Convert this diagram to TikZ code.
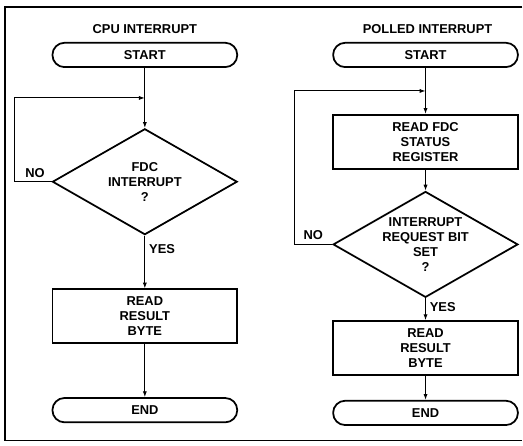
\documentclass[tikz,border=0pt]{standalone}
\usepackage{fontspec}
\setsansfont{Liberation Sans}
\usetikzlibrary{positioning, arrows.meta, shapes.geometric}

\begin{document}
\begin{tikzpicture}[
  font=\sffamily\bfseries\fontsize{11}{12.75}\selectfont,
  term/.style={draw, line width=1.5pt, rounded corners=0.36cm,
    minimum width=5.55cm, minimum height=0.73cm},
  box/.style={draw, line width=1.5pt, minimum width=5.55cm,
    minimum height=1.62cm, align=center},
  decision/.style={draw, diamond, line width=1.5pt, aspect=1.74, inner sep=0pt,
    minimum width=5.55cm, minimum height=3.18cm, align=center},
  arrow/.style={-{Latex[length=5pt,width=3.5pt]}, line width=0.8pt},
]
  \path[fill=white] (0,0) rectangle (15.69,-13.38);
  \draw[line width=1pt] (15.69,-0.21) -- (0.15,-0.21) -- (0.15,-13.23) -- (15.69,-13.23);

  \node (cpu) at (4.35,-0.87) {CPU INTERRUPT};
  \node[term] (start1) at (4.35,-1.65) {START};
  \node[decision, below=1.8cm of start1] (fdc) {FDC\\INTERRUPT\\?};
  \node[box, below=1.59cm of fdc] (read1) {READ\\RESULT\\BYTE};
  \node[term, below=1.59cm of read1] (end1) {END};
  \coordinate[below=0.9cm of start1] (join1);

  \node (poll) at (12.84,-0.87) {POLLED INTERRUPT};
  \node[term] (start2) at (12.78,-1.65) {START};
  \node[box, below=1.38cm of start2] (status) {READ FDC\\STATUS\\REGISTER};
  \node[decision, below=0.63cm of status] (irq) {INTERRUPT\\REQUEST BIT\\SET\\?};
  \node[box, below=0.66cm of irq] (read2) {READ\\RESULT\\BYTE};
  \node[term, below=0.72cm of read2] (end2) {END};
  \coordinate[below=0.69cm of start2] (join2);

  \draw[arrow] (start1) -- (fdc);
  \draw[arrow] (fdc.west) -- node[above, pos=0.45] (no1) {NO} ++(-1.11,0) |- (join1);
  \draw[arrow] (fdc) -- node[right, pos=0.25] (yes1) {YES} (read1);
  \draw[arrow] (read1) -- (end1);

  \draw[arrow] (start2) -- (status);
  \draw[arrow] (status) -- (irq);
  \draw[arrow] (irq.west) -- node[above, pos=0.5] (no2) {NO} ++(-1.14,0) |- (join2);
  \draw[arrow] (irq) -- node[right, pos=0.4] (yes2) {YES} (read2);
  \draw[arrow] (read2) -- (end2);
\end{tikzpicture}
\end{document}
